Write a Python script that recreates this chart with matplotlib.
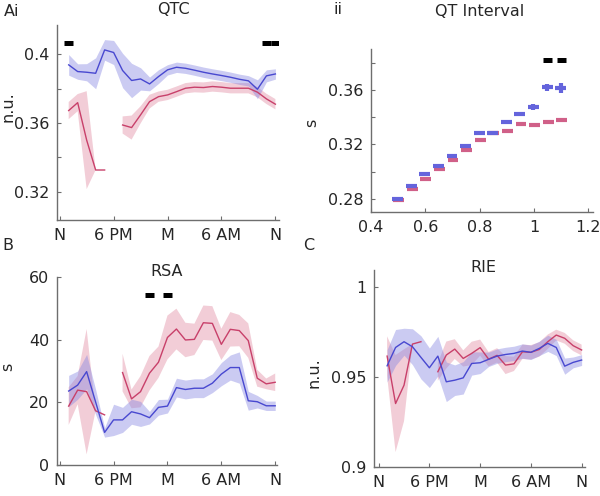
import numpy as np
import matplotlib
matplotlib.use("Agg")
import matplotlib.pyplot as plt

# hourly bins (hours after noon), N = noon, M = midnight
hours = list(range(1, 25))
time_ticks = [0, 6, 12, 18, 24]
time_labels = ["N", "6 PM", "M", "6 AM", "N"]

nan = np.nan

# --- Ai: QTC ---
qtc_blue = [0.3938, 0.3899, 0.3895, 0.3889, 0.4025, 0.4010, 0.3905, 0.3847, 0.3856, 0.3827,
            0.3870, 0.3909, 0.3924, 0.3918, 0.3907, 0.3895, 0.3885, 0.3876, 0.3866, 0.3854,
            0.3845, 0.3796, 0.3874, 0.3885]
qtc_blue_err = [0.006, 0.0045, 0.005, 0.009, 0.006, 0.007, 0.010, 0.010, 0.0065, 0.004,
                0.004, 0.003, 0.003, 0.003, 0.003, 0.003, 0.003, 0.003, 0.003, 0.003,
                0.003, 0.0055, 0.0035, 0.003]
qtc_red = [0.3672, 0.3718, 0.3500, 0.3326, 0.3326, nan, 0.3588, 0.3573, 0.3647, 0.3724,
           0.3753, 0.3763, 0.3782, 0.3802, 0.3808, 0.3806, 0.3812, 0.3808, 0.3802, 0.3802,
           0.3802, 0.3779, 0.3740, 0.3709]
qtc_red_err = [0.005, 0.005, 0.0285, 0, 0, nan, 0.005, 0.007, 0.005, 0.004,
               0.003, 0.003, 0.003, 0.003, 0.003, 0.003, 0.003, 0.003, 0.003, 0.003,
               0.003, 0.003, 0.003, 0.003]
qtc_sig = [1, 23, 24]

# --- ii: QT interval vs RR bin ---
rr_bins = [0.5, 0.55, 0.6, 0.65, 0.7, 0.75, 0.8, 0.85, 0.9, 0.95, 1.0, 1.05, 1.1]
qt_blue = [0.2800, 0.2893, 0.2983, 0.3045, 0.3113, 0.3189, 0.3282, 0.3287, 0.3363, 0.3424,
           0.3475, 0.3620, 0.3615]
qt_blue_err = [0.0005, 0.0005, 0.0005, 0.0005, 0.0005, 0.0005, 0.0005, 0.0005, 0.0007, 0.0015,
               0.002, 0.0025, 0.0035]
qt_red = [0.2793, 0.2873, 0.2947, 0.3020, 0.3084, 0.3162, 0.3233, 0.3283, 0.3299, 0.3348,
          0.3346, 0.3365, 0.3380]
qt_red_err = [0.0005, 0.0005, 0.0005, 0.0005, 0.0005, 0.0005, 0.0005, 0.0005, 0.0005, 0.0007,
              0.0007, 0.001, 0.0015]
qt_sig = [1.05, 1.1]

# --- B: RSA ---
rsa_blue = [23.6, 25.5, 29.8, 20.1, 10.4, 14.4, 14.4, 17.0, 16.3, 15.1, 18.4, 18.8,
            24.7, 24.1, 24.5, 24.5, 26.1, 29.0, 31.1, 31.1, 20.5, 20.2, 18.9, 18.9]
rsa_blue_err = [5, 4.5, 5.5, 4, 1.5, 5, 4, 4, 4, 2, 2.5, 2.2,
                3, 3, 3, 3, 3, 3.7, 4, 5, 3, 2, 1.5, 1.5]
rsa_red = [18.8, 23.9, 23.4, 17.3, 16.0, nan, 29.5, 21.1, 23.4, 29.3, 32.8, 40.7,
           43.4, 39.9, 40.1, 45.4, 45.2, 38.5, 43.3, 42.9, 39.7, 27.7, 25.9, 26.4]
rsa_red_err = [6, 4.5, 20, 0, 0, nan, 6, 3, 5, 5.5, 5, 7,
               6.5, 5.5, 5, 5.5, 5.5, 5, 5.5, 5, 5.5, 2.7, 1.7, 2.8]
rsa_sig = [10, 12]

# --- C: RIE ---
rie_blue = [0.9563, 0.9665, 0.9697, 0.9669, 0.9610, 0.9552, 0.9617, 0.9474, 0.9483, 0.9496,
            0.9576, 0.9580, 0.9599, 0.9617, 0.9626, 0.9632, 0.9645, 0.9638, 0.9660, 0.9688,
            0.9665, 0.9561, 0.9582, 0.9595]
rie_blue_err = [0.009, 0.010, 0.0075, 0.010, 0.012, 0.011, 0.011, 0.011, 0.0085, 0.009,
                0.0065, 0.006, 0.004, 0.004, 0.004, 0.004, 0.004, 0.004, 0.004, 0.0045,
                0.0045, 0.0045, 0.003, 0.003]
rie_red = [0.9617, 0.9353, 0.9455, 0.9684, 0.9697, nan, 0.9530, 0.9623, 0.9656, 0.9604,
           0.9632, 0.9664, 0.9600, 0.9621, 0.9567, 0.9574, 0.9641, 0.9638, 0.9654, 0.9697,
           0.9734, 0.9716, 0.9675, 0.9651]
rie_red_err = [0.011, 0.027, 0.020, 0, 0, nan, 0.005, 0.0075, 0.0055, 0.0045,
               0.0065, 0.0045, 0.004, 0.004, 0.005, 0.004, 0.004, 0.004, 0.004, 0.004,
               0.003, 0.003, 0.003, 0.003]

BLUE = "#4848d0"
BLUE_FILL = "#8484e2"
RED = "#c8406a"
RED_FILL = "#e08aa0"
AXCOL = "#6e6e6e"
TXT = "#262626"
FS = 11.5

W, H = 600, 496
fig = plt.figure(figsize=(W / 100, H / 100), dpi=100)


def px_axes(left, top, right, bottom):
    return fig.add_axes([left / W, 1 - bottom / H, (right - left) / W, (bottom - top) / H])


def style(ax):
    for s in ["top", "right"]:
        ax.spines[s].set_visible(False)
    for s in ["left", "bottom"]:
        ax.spines[s].set_color(AXCOL)
        ax.spines[s].set_linewidth(1.0)
    ax.tick_params(direction="in", length=3, width=0.8, color=AXCOL,
                   labelcolor=TXT, labelsize=FS, pad=5.5)


def band_plot(ax, mean, err, color, fill):
    m = np.array(mean, dtype=float)
    e = np.array(err, dtype=float)
    ax.fill_between(hours, m - e, m + e, color=fill, alpha=0.42, lw=0)
    ax.plot(hours, m, color=color, lw=1.0)


def sig_bars(ax, xs, y, half):
    xs = np.array(xs, dtype=float)
    ax.hlines([y] * len(xs), xs - half, xs + half, color="k", lw=3.6)


def time_axis(ax, xlim):
    ax.set_xlim(*xlim)
    ax.set_xticks(time_ticks)
    ax.set_xticklabels(time_labels)


def label(x, y, s, rot=0, ha="center"):
    fig.text(x / W, 1 - y / H, s, ha=ha, va="center", rotation=rot, fontsize=FS, color=TXT)


# Ai
ax = px_axes(57, 25, 279, 220)
band_plot(ax, qtc_red, qtc_red_err, RED, RED_FILL)
band_plot(ax, qtc_blue, qtc_blue_err, BLUE, BLUE_FILL)
sig_bars(ax, qtc_sig, 0.4064, 0.5)
time_axis(ax, (-0.3, 24.4))
ax.set_ylim(0.3035, 0.417)
ax.set_yticks([0.32, 0.34, 0.36, 0.38, 0.40])
ax.set_yticklabels(["0.32", "", "0.36", "", "0.4"])
style(ax)
label(173, 10, "QTC")
label(4, 11, "Ai", ha="left")
label(8, 107, "n.u.", rot=90)

# ii
ax = px_axes(371, 49, 593, 212)
ax.errorbar(np.array(rr_bins) + 0.002, qt_red, xerr=0.02, yerr=qt_red_err, fmt="none",
            ecolor="#d06088", elinewidth=3.0, capsize=0)
ax.errorbar(np.array(rr_bins) - 0.002, qt_blue, xerr=0.02, yerr=qt_blue_err, fmt="none",
            ecolor="#6464dc", elinewidth=3.0, capsize=0)
sig_bars(ax, qt_sig, 0.382, 0.016)
ax.set_xlim(0.4, 1.217)
ax.set_xticks([0.4, 0.6, 0.8, 1.0, 1.2])
ax.set_xticklabels(["0.4", "0.6", "0.8", "1", "1.2"])
ax.set_ylim(0.2705, 0.390)
ax.set_yticks([0.28, 0.30, 0.32, 0.34, 0.36, 0.38])
ax.set_yticklabels(["0.28", "", "0.32", "", "0.36", ""])
style(ax)
label(480, 11, "QT Interval")
label(333, 10, "ii", ha="left")
label(312, 123, "s", rot=90)

# B
ax = px_axes(57, 277, 277, 465)
band_plot(ax, rsa_red, rsa_red_err, RED, RED_FILL)
band_plot(ax, rsa_blue, rsa_blue_err, BLUE, BLUE_FILL)
sig_bars(ax, rsa_sig, 54.1, 0.47)
time_axis(ax, (-0.3, 24.2))
ax.set_ylim(0, 60)
ax.set_yticks([0, 20, 40, 60])
style(ax)
label(167, 272, "RSA")
label(2, 246, "B", ha="left")
label(8, 367, "s", rot=90)

# C
ax = px_axes(374, 270, 585, 467)
band_plot(ax, rie_red, rie_red_err, RED, RED_FILL)
band_plot(ax, rie_blue, rie_blue_err, BLUE, BLUE_FILL)
time_axis(ax, (-0.55, 24.4))
ax.set_ylim(0.9, 1.0096)
ax.set_yticks([0.9, 0.95, 1.0])
ax.set_yticklabels(["0.9", "0.95", "1"])
style(ax)
label(483, 268, "RIE")
label(303, 246, "C", ha="left")
label(314, 373, "n.u.", rot=90)

fig.savefig("out.png", dpi=100)
